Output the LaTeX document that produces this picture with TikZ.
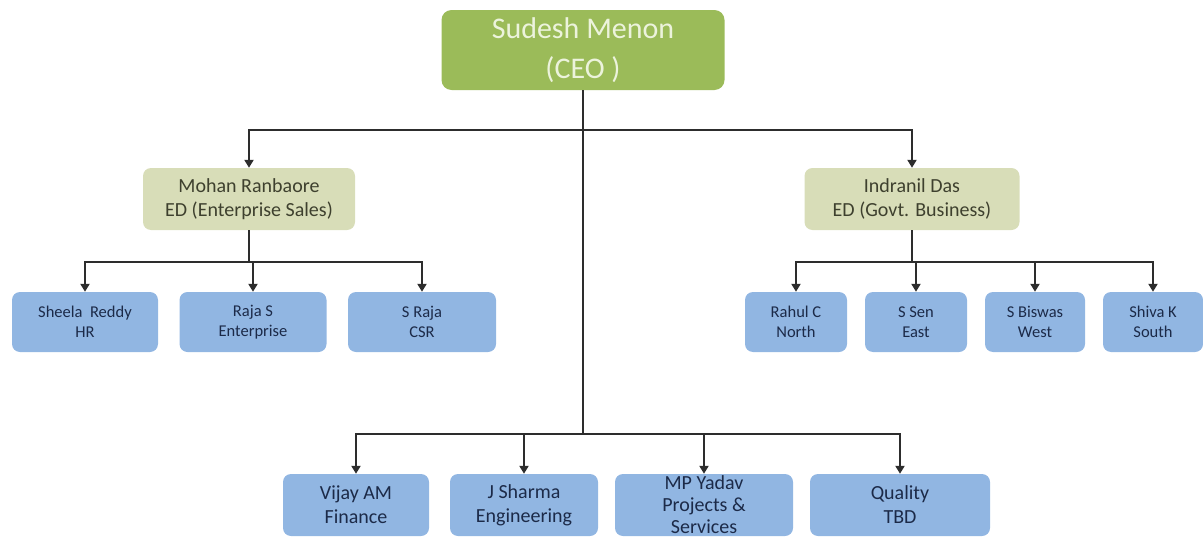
\documentclass[tikz,border=0pt]{standalone}
\usepackage{fontspec}
\setmainfont{Carlito}
\usepackage{tikz}
\usetikzlibrary{arrows.meta}
\definecolor{ceogreen}{RGB}{155,187,89}
\definecolor{ceotext}{RGB}{236,243,220}
\definecolor{edfill}{RGB}{216,221,184}
\definecolor{edtext}{RGB}{62,64,46}
\definecolor{staffblue}{RGB}{145,182,226}
\definecolor{stafftext}{RGB}{28,42,72}
\definecolor{linegray}{RGB}{45,45,45}

\begin{document}
\begin{tikzpicture}[x=1pt,y=-1pt,
  ceobox/.style={rectangle,rounded corners=10pt,fill=ceogreen,text=ceotext,align=center,
    minimum width=283pt,minimum height=80pt,inner sep=0pt,font=\fontsize{30}{40}\selectfont},
  edbox/.style={rectangle,rounded corners=8pt,fill=edfill,text=edtext,align=center,
    minimum height=62pt,inner sep=0pt,font=\fontsize{20}{24}\selectfont},
  staffbox/.style={rectangle,rounded corners=8pt,fill=staffblue,text=stafftext,align=center,
    minimum height=60pt,inner sep=0pt,font=\fontsize{16.5}{20}\selectfont},
  headbox/.style={rectangle,rounded corners=8pt,fill=staffblue,text=stafftext,align=center,
    minimum height=62pt,inner sep=0pt,font=\fontsize{20}{24}\selectfont},
  link/.style={line width=2pt,draw=linegray},
  arrow/.style={link,-{Triangle[width=9pt,length=8pt]}}]
\useasboundingbox (0,0) rectangle (1203,538);

% top
\node [ceobox] (ceo) at(583,50){Sudesh Menon\\(CEO )};
\node [edbox,minimum width=212pt] (mohan) at(249,199){Mohan Ranbaore\\ED (Enterprise Sales)};
\node [edbox,minimum width=215pt] (indranil) at(912,199){Indranil Das\\ED (Govt. Business)};

% enterprise sales
\node [staffbox,minimum width=146pt] (sheela) at(85,322){Sheela\ \ Reddy\\HR};
\node [staffbox,minimum width=147pt] (rajas) at(253,322){Raja S\\Enterprise};
\node [staffbox,minimum width=148pt] (sraja) at(422,322){S Raja\\CSR};

% govt. business
\node [staffbox,minimum width=102pt] (rahul) at(796,322){Rahul C\\North};
\node [staffbox,minimum width=102pt] (ssen) at(916,322){S Sen\\East};
\node [staffbox,minimum width=100pt] (sbiswas) at(1035,322){S Biswas\\West};
\node [staffbox,minimum width=100pt] (shiva) at(1153,322){Shiva K\\South};

% direct reports
\node [headbox,minimum width=146pt] (vijay) at(356,505){Vijay AM\\Finance};
\node [headbox,minimum width=148pt] (jsharma) at(524,505){J Sharma\\Engineering};
\node [headbox,minimum width=178pt,font=\fontsize{20}{22}\selectfont] (mpyadav) at(704,505){MP Yadav\\Projects \&\\Services};
\node [headbox,minimum width=180pt] (quality) at(900,505){Quality\\TBD};

\coordinate (edbus) at(583,130);
\coordinate (headbus) at(583,434);
\coordinate (salesbus) at(249,262);
\coordinate (govtbus) at(912,262);

\draw[link](ceo.south) -- (headbus);
\draw[arrow](edbus) -| (mohan.north);
\draw[arrow](edbus) -| (indranil.north);

\draw[link](mohan.south) -- (salesbus);
\draw[arrow](salesbus) -| (sheela.north);
\draw[arrow](salesbus) -| (rajas.north);
\draw[arrow](salesbus) -| (sraja.north);

\draw[link](indranil.south) -- (govtbus);
\draw[arrow](govtbus) -| (rahul.north);
\draw[arrow](govtbus) -| (ssen.north);
\draw[arrow](govtbus) -| (sbiswas.north);
\draw[arrow](govtbus) -| (shiva.north);

\draw[arrow](headbus) -| (vijay.north);
\draw[arrow](headbus) -| (jsharma.north);
\draw[arrow](headbus) -| (mpyadav.north);
\draw[arrow](headbus) -| (quality.north);

\end{tikzpicture}
\end{document}
